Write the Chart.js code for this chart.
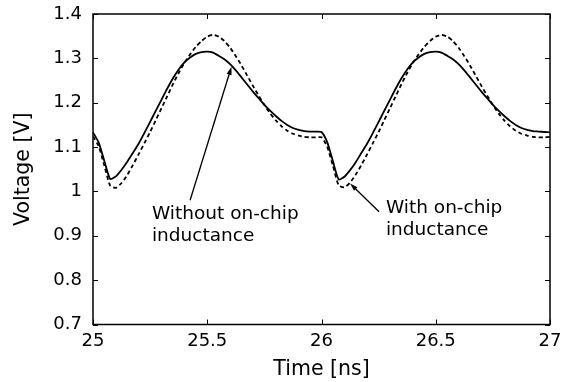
<!DOCTYPE html>
<html>
<head>
<meta charset="utf-8">
<script src="https://cdn.jsdelivr.net/npm/chart.js@4.4.0/dist/chart.umd.min.js"></script>
<style>
  html, body { margin: 0; padding: 0; background: #fff; }
  #wrap { width: 562px; height: 382px; }
</style>
</head>
<body>
<div id="wrap"><canvas id="voltageChart" width="562" height="382"></canvas></div>
<script>
// Supply voltage over two clock cycles (time in ns, voltage in V)
const timeNs = [
  25.000, 25.025, 25.050, 25.075, 25.100, 25.125, 25.150, 25.175, 25.200, 25.225,
  25.250, 25.275, 25.300, 25.325, 25.350, 25.375, 25.400, 25.425, 25.450, 25.475,
  25.500, 25.525, 25.550, 25.575, 25.600, 25.625, 25.650, 25.675, 25.700, 25.725,
  25.750, 25.775, 25.800, 25.825, 25.850, 25.875, 25.900, 25.925, 25.950, 25.975,
  26.000, 26.025, 26.050, 26.075, 26.100, 26.125, 26.150, 26.175, 26.200, 26.225,
  26.250, 26.275, 26.300, 26.325, 26.350, 26.375, 26.400, 26.425, 26.450, 26.475,
  26.500, 26.525, 26.550, 26.575, 26.600, 26.625, 26.650, 26.675, 26.700, 26.725,
  26.750, 26.775, 26.800, 26.825, 26.850, 26.875, 26.900, 26.925, 26.950, 26.975,
  27.000
];

// Without on-chip inductance (solid)
const vWithout = [
  1.133, 1.110, 1.068, 1.028, 1.034, 1.049, 1.067, 1.087, 1.108, 1.132,
  1.157, 1.182, 1.207, 1.232, 1.255, 1.275, 1.291, 1.302, 1.310, 1.314,
  1.315, 1.313, 1.306, 1.298, 1.287, 1.273, 1.257, 1.241, 1.225, 1.210,
  1.195, 1.182, 1.170, 1.159, 1.150, 1.143, 1.139, 1.136, 1.135, 1.135,
  1.134, 1.111, 1.068, 1.027, 1.033, 1.048, 1.066, 1.087, 1.108, 1.132,
  1.157, 1.182, 1.207, 1.232, 1.255, 1.275, 1.291, 1.302, 1.310, 1.314,
  1.315, 1.313, 1.306, 1.298, 1.287, 1.273, 1.257, 1.241, 1.225, 1.210,
  1.195, 1.182, 1.170, 1.159, 1.150, 1.143, 1.139, 1.136, 1.135, 1.134,
  1.133
];

// With on-chip inductance (dashed)
const vWith = [
  1.124, 1.102, 1.058, 1.013, 1.008, 1.019, 1.037, 1.060, 1.084, 1.109,
  1.134, 1.161, 1.188, 1.215, 1.242, 1.267, 1.290, 1.309, 1.326, 1.339,
  1.349, 1.353, 1.349, 1.339, 1.324, 1.305, 1.284, 1.261, 1.238, 1.216,
  1.195, 1.176, 1.160, 1.147, 1.137, 1.130, 1.126, 1.123, 1.122, 1.122,
  1.122, 1.101, 1.058, 1.014, 1.009, 1.020, 1.038, 1.060, 1.084, 1.109,
  1.134, 1.161, 1.188, 1.215, 1.242, 1.267, 1.290, 1.309, 1.326, 1.339,
  1.349, 1.353, 1.349, 1.339, 1.324, 1.305, 1.284, 1.261, 1.238, 1.216,
  1.195, 1.176, 1.160, 1.147, 1.137, 1.130, 1.126, 1.123, 1.122, 1.122,
  1.123
];

const xTicks = [25, 25.5, 26, 26.5, 27];
const yTicks = [0.7, 0.8, 0.9, 1, 1.1, 1.2, 1.3, 1.4];

// Callout labels with arrows, placed in data coordinates
const callouts = [
  { lines: ['Without on-chip', 'inductance'], textX: 25.258, textY: 0.937,
    from: [25.425, 0.980], to: [25.606, 1.281] },
  { lines: ['With on-chip', 'inductance'], textX: 26.282, textY: 0.951,
    from: [26.252, 0.954], to: [26.125, 1.018] }
];

const FONT = '"DejaVu Sans", Verdana, sans-serif';

const toPoints = (ys) => timeNs.map((t, i) => ({ x: t, y: ys[i] }));

// Box frame, inward tick marks on all four sides, and the callouts
const frameTicks = {
  id: 'frameTicks',
  afterDatasetsDraw(chart) {
    const { ctx, chartArea: a, scales: { x, y } } = chart;
    const len = 5;
    ctx.save();
    ctx.strokeStyle = '#000';
    ctx.lineWidth = 1.5;
    ctx.strokeRect(a.left, a.top, a.right - a.left, a.bottom - a.top);
    ctx.lineWidth = 1;
    ctx.beginPath();
    xTicks.forEach(v => {
      const px = Math.round(x.getPixelForValue(v)) + 0.5;
      ctx.moveTo(px, a.bottom); ctx.lineTo(px, a.bottom - len);
      ctx.moveTo(px, a.top); ctx.lineTo(px, a.top + len);
    });
    yTicks.forEach(v => {
      const py = Math.round(y.getPixelForValue(v)) + 0.5;
      ctx.moveTo(a.left, py); ctx.lineTo(a.left + len, py);
      ctx.moveTo(a.right, py); ctx.lineTo(a.right - len, py);
    });
    ctx.stroke();

    ctx.fillStyle = '#000';
    ctx.font = '18.5px ' + FONT;
    ctx.textAlign = 'left';
    ctx.textBaseline = 'alphabetic';
    callouts.forEach(c => {
      const tx = x.getPixelForValue(c.textX);
      const ty = y.getPixelForValue(c.textY);
      c.lines.forEach((s, i) => ctx.fillText(s, tx, ty + i * 22));

      const x0 = x.getPixelForValue(c.from[0]), y0 = y.getPixelForValue(c.from[1]);
      const x1 = x.getPixelForValue(c.to[0]), y1 = y.getPixelForValue(c.to[1]);
      const ang = Math.atan2(y1 - y0, x1 - x0);
      ctx.lineWidth = 1.3;
      ctx.beginPath();
      ctx.moveTo(x0, y0);
      ctx.lineTo(x1 - 5 * Math.cos(ang), y1 - 5 * Math.sin(ang));
      ctx.stroke();
      ctx.beginPath();
      ctx.moveTo(x1, y1);
      ctx.lineTo(x1 - 8 * Math.cos(ang) + 2.5 * Math.sin(ang), y1 - 8 * Math.sin(ang) - 2.5 * Math.cos(ang));
      ctx.lineTo(x1 - 8 * Math.cos(ang) - 2.5 * Math.sin(ang), y1 - 8 * Math.sin(ang) + 2.5 * Math.cos(ang));
      ctx.closePath();
      ctx.fill();
    });
    ctx.restore();
  }
};

new Chart(document.getElementById('voltageChart'), {
  type: 'line',
  data: {
    datasets: [
      {
        label: 'Without on-chip inductance',
        data: toPoints(vWithout),
        borderColor: '#000',
        borderWidth: 1.8,
        pointRadius: 0,
        tension: 0.2
      },
      {
        label: 'With on-chip inductance',
        data: toPoints(vWith),
        borderColor: '#000',
        borderWidth: 1.8,
        borderDash: [4, 3],
        pointRadius: 0,
        tension: 0.2
      }
    ]
  },
  options: {
    responsive: false,
    animation: false,
    devicePixelRatio: 1,
    layout: { padding: { top: 14, right: 12, left: 0, bottom: 0 } },
    plugins: { legend: { display: false }, tooltip: { enabled: false } },
    scales: {
      x: {
        type: 'linear',
        min: 25,
        max: 27,
        grid: { display: false, drawTicks: false },
        border: { display: false },
        afterBuildTicks: (s) => { s.ticks = xTicks.map(v => ({ value: v })); },
        afterFit: (s) => { s.height = 57.5; s.paddingLeft = 0; s.paddingRight = 0; },
        ticks: {
          color: '#000',
          padding: 6,
          maxRotation: 0,
          font: { family: FONT, size: 18 },
          callback: (v) => String(v)
        },
        title: {
          display: true,
          text: 'Time [ns]',
          color: '#000',
          padding: 0,
          font: { family: FONT, size: 20.5 }
        }
      },
      y: {
        min: 0.7,
        max: 1.4,
        grid: { display: false, drawTicks: false },
        border: { display: false },
        afterBuildTicks: (s) => { s.ticks = yTicks.map(v => ({ value: v })); },
        afterFit: (s) => { s.width = 93; s.paddingTop = 0; s.paddingBottom = 0; },
        ticks: {
          color: '#000',
          padding: 11,
          font: { family: FONT, size: 18 },
          callback: (v) => String(v)
        },
        title: {
          display: true,
          text: 'Voltage [V]',
          color: '#000',
          padding: 11,
          font: { family: FONT, size: 20.5 }
        }
      }
    }
  },
  plugins: [frameTicks]
});
</script>
</body>
</html>
